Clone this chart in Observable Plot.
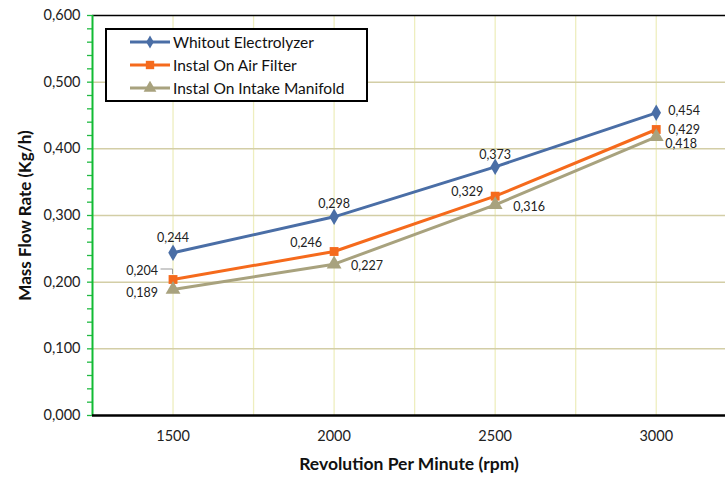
<!DOCTYPE html>
<html>
<head>
<meta charset="utf-8">
<script src="https://cdn.jsdelivr.net/npm/d3@7"></script>
<script src="https://cdn.jsdelivr.net/npm/@observablehq/plot@0.6"></script>
<style>
  html, body { margin: 0; padding: 0; background: #fff; }
  #wrap { position: relative; width: 725px; height: 480px; overflow: hidden; font-family: Lato, "DejaVu Sans", sans-serif; }
  #legend { position: absolute; left: 105px; top: 28px; width: 259px; height: 70px; border: 2px solid #000; background: #fff; }
  .row { position: absolute; left: 22px; height: 22px; display: flex; align-items: center; font-size: 15.5px; color: #111; white-space: nowrap; }
  .row svg { margin-right: 2px; }
</style>
</head>
<body>
<div id="wrap"></div>
<script>
// ---- data ----
const rpm = [1500, 2000, 2500, 3000];
const withoutElectrolyzer = [0.244, 0.298, 0.373, 0.454];
const onAirFilter = [0.204, 0.246, 0.329, 0.429];
const onIntakeManifold = [0.189, 0.227, 0.316, 0.418];
const seriesNames = ["Whitout Electrolyzer", "Instal On Air Filter", "Instal On Intake Manifold"];
const yTicks = [0, 0.1, 0.2, 0.3, 0.4, 0.5, 0.6];
const xTicks = [1500, 2000, 2500, 3000];

// ---- styling ----
const colors = ["#4a6ea6", "#f56a1c", "#a8a27e"];
const symbols = ["diamond", "square", "triangle"];
const symbolR = [5, 5, 5.5];
// label placement per series (anchor, dx, dy for each point)
const labelPlacement = [
  [["middle", 0, -15], ["middle", 0, -13], ["middle", 0, -12], ["start", 12, -2]],
  [["end", -15, -9], ["end", -12, -9], ["end", -12, -4], ["start", 12, 0]],
  [["end", -15, 3], ["start", 17, 2], ["start", 18, 2], ["start", 9, 7]]
];

const allSeries = [withoutElectrolyzer, onAirFilter, onIntakeManifold];
const rows = [];
allSeries.forEach((vals, s) => vals.forEach((v, i) => rows.push({
  series: seriesNames[s], s, rpm: rpm[i], value: v,
  label: d3.format(".3f")(v).replace(".", ","),
  anchor: labelPlacement[s][i][0], dx: labelPlacement[s][i][1], dy: labelPlacement[s][i][2]
})));

const fmt = d => d3.format(".3f")(d).replace(".", ",");
const minorY = d3.range(0, 0.6001, 0.02);
const gridXTicks = d3.range(1500, 3001, 250);

const marks = [
  Plot.gridX(gridXTicks, {stroke: "#eeeebf", strokeOpacity: 1, strokeWidth: 1.3}),
  Plot.gridY(yTicks.slice(1, -1), {stroke: "#d3cea6", strokeOpacity: 1, strokeWidth: 1.5}),
  Plot.ruleY([0.6], {stroke: "#000", strokeWidth: 1.5}),
  Plot.axisY(minorY, {tickSize: 5, stroke: "#22bb44", strokeWidth: 1.3, tickFormat: () => "", label: null}),
  Plot.axisY(yTicks, {tickSize: 0, tickPadding: 12, tickFormat: fmt, fontSize: 14.5, fill: "#222",
    label: "Mass Flow Rate (Kg/h)", labelAnchor: "center", labelArrow: "none", labelOffset: 74}),
  Plot.axisX(xTicks, {tickSize: 0, tickPadding: 15, fontSize: 14.5, fill: "#222", tickFormat: d => String(d),
    label: "Revolution Per Minute (rpm)", labelAnchor: "center", labelArrow: "none", labelOffset: 54}),
  Plot.ruleX([1250], {stroke: "#11bb33", strokeWidth: 2}),
  Plot.ruleY([0], {stroke: "#000", strokeWidth: 2.5}),
  // leader line for the 0,204 label
  Plot.dot(rows.filter(d => d.s === 1 && d.rpm === 1500), {
    x: "rpm", y: "value",
    render: (index, scales, values, dims, context) => {
      const g = d3.create("svg:g");
      for (const i of index) {
        const px = values.x[i], py = values.y[i];
        g.append("path").attr("d", `M${px - 12},${py - 10}H${px}V${py - 5}`)
          .attr("fill", "none").attr("stroke", "#999").attr("stroke-width", 1);
      }
      return g.node();
    }
  }),
  ...allSeries.map((vals, s) => Plot.line(rows.filter(d => d.s === s), {
    x: "rpm", y: "value", stroke: colors[s], strokeWidth: 3
  })),
  ...allSeries.map((vals, s) => Plot.dot(rows.filter(d => d.s === s), {
    x: "rpm", y: "value", fill: colors[s], symbol: () => symbols[s], r: symbolR[s], stroke: "none"
  }))
];

// data labels: dx/dy are constants per mark, so group by placement
const groups = d3.group(rows, d => `${d.anchor}|${d.dx}|${d.dy}`);
for (const [key, grp] of groups) {
  const [a, dx, dy] = key.split("|");
  marks.push(Plot.text(grp, {x: "rpm", y: "value", text: "label", textAnchor: a,
    dx: +dx, dy: +dy, fontSize: 12.5, fill: "#222"}));
}

const chart = Plot.plot({
  width: 725, height: 480,
  marginLeft: 92, marginRight: 0, marginTop: 15, marginBottom: 65,
  style: {fontFamily: "Lato, 'DejaVu Sans', sans-serif", background: "#fff", overflow: "visible"},
  x: {type: "linear", domain: [1250, 3215], axis: null},
  y: {domain: [0, 0.6], axis: null},
  marks
});

// Axis labels bold
chart.querySelectorAll("[aria-label='y-axis label']").forEach(n => {
  n.setAttribute("font-weight", "bold");
  n.setAttribute("font-size", "17");
  n.setAttribute("fill", "#111");
});
chart.querySelectorAll("[aria-label='x-axis label']").forEach(n => {
  n.setAttribute("font-weight", "bold");
  n.setAttribute("font-size", "17.5");
  n.setAttribute("fill", "#111");
});

const wrap = document.getElementById("wrap");
wrap.appendChild(chart);

// legend
const legend = document.createElement("div");
legend.id = "legend";
const rowTops = [1, 24, 47];
seriesNames.forEach((name, s) => {
  const r = document.createElement("div");
  r.className = "row";
  r.style.top = rowTops[s] + "px";
  const sym = d3.symbol(s === 0 ? d3.symbolDiamond : s === 1 ? d3.symbolSquare : d3.symbolTriangle,
    s === 0 ? 50 : s === 1 ? 70 : 70)();
  r.innerHTML = `<svg width="42" height="14"><line x1="1" x2="41" y1="7" y2="7" stroke="${colors[s]}" stroke-width="3"/>` +
    `<path d="${sym}" transform="translate(21,7)" fill="${colors[s]}"/></svg><span>${name}</span>`;
  legend.appendChild(r);
});
wrap.appendChild(legend);
</script>
</body>
</html>
